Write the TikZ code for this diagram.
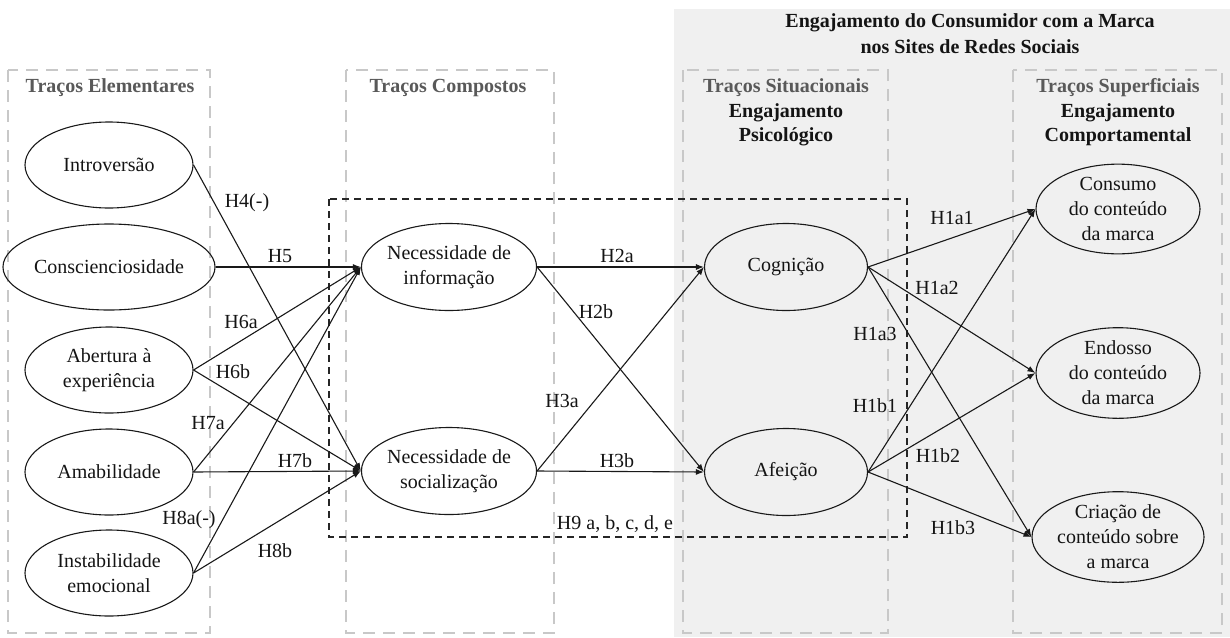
\documentclass[tikz,border=0pt]{standalone}
\usepackage{fontspec}
\setmainfont{Liberation Serif}
\usetikzlibrary{arrows.meta,shapes.geometric}
\definecolor{panelgray}{HTML}{F0F0F0}
\definecolor{frameline}{HTML}{C8C8C8}
\definecolor{headgray}{HTML}{595959}
\begin{document}
\begin{tikzpicture}[x=1pt,y=-1pt,
  every node/.style={font=\fontsize{20}{25}\selectfont, text=black!92},
  construct/.style={ellipse, draw=black!90, line width=1.1pt, inner sep=0pt, align=center},
  leftc/.style={construct, minimum width=168pt, minimum height=86pt},
  midc/.style={construct, minimum width=163pt, minimum height=87pt},
  rightc/.style={construct, minimum width=164pt, minimum height=87pt},
  layer/.style={draw=frameline, line width=1.4pt, dash pattern=on 12pt off 8pt},
  mediation/.style={draw=black!85, line width=1.2pt, dash pattern=on 7pt off 5pt},
  head/.style={font=\fontsize{20}{25}\selectfont\bfseries, text=headgray},
  subhead/.style={font=\fontsize{20}{25}\selectfont\bfseries, text=black!92},
  hpath/.style={draw=black!90, line width=1.1pt, -{Latex[length=8pt,width=6pt]}},
  hyp/.style={inner sep=1pt}
]
\useasboundingbox (0,0) rectangle (1230,637);

% shaded area of the brand engagement constructs
\fill[panelgray] (674,9) rectangle (1230,637);
\node[subhead] (title1) at (970,23) {Engajamento do Consumidor com a Marca};
\node[subhead] (title2) at (970,47) {nos Sites de Redes Sociais};

% trait layers
\draw[layer] (8,70) rectangle (210,633);
\draw[layer] (346,70) rectangle (554,633);
\draw[layer] (683,70) rectangle (888,633);
\draw[layer] (1013,70) rectangle (1222,633);

\node[head] (hElem) at (110,88) {Traços Elementares};
\node[head] (hComp) at (448,88) {Traços Compostos};
\node[head] (hSit) at (786,88) {Traços Situacionais};
\node[subhead] (hPsi1) at (786,113) {Engajamento};
\node[subhead] (hPsi2) at (786,137) {Psicológico};
\node[head] (hSup) at (1118,88) {Traços Superficiais};
\node[subhead] (hCom1) at (1118,113) {Engajamento};
\node[subhead] (hCom2) at (1118,137) {Comportamental};

% mediation frame
\draw[mediation] (329,199) rectangle (907,537);
\node[hyp] (h9) at (615,524) {H9 a, b, c, d, e};

% constructs
\node[leftc] (intro) at (109,165) {Introversão};
\node[leftc] (consc) at (109,267) {Conscienciosidade};
\node[leftc] (abert) at (109,370) {Abertura à\\experiência};
\node[leftc] (amab) at (109,472) {Amabilidade};
\node[leftc] (instab) at (109,573) {Instabilidade\\emocional};

\node[midc] (info) at (449,267) {Necessidade de\\informação};
\node[midc] (soc) at (449,471) {Necessidade de\\socialização};

\node[midc] (cog) at (786,267) {Cognição};
\node[midc] (afe) at (786,472) {Afeição};

\node[rightc] (consumo) at (1118,209) {Consumo\\do conteúdo\\da marca};
\node[rightc] (endosso) at (1118,373) {Endosso\\do conteúdo\\da marca};
\node[rightc] (criacao) at (1118,537) {Criação de\\conteúdo sobre\\a marca};

% hypothesised paths
\draw[hpath] (intro.east) -- (soc.west);
\draw[hpath] (consc.east) -- (info.west);
\draw[hpath] (abert.east) -- (info.west);
\draw[hpath] (abert.east) -- (soc.west);
\draw[hpath] (amab.east) -- (info.west);
\draw[hpath] (amab.east) -- (soc.west);
\draw[hpath] (instab.east) -- (info.west);
\draw[hpath] (instab.east) -- (soc.west);

\draw[hpath] (info.east) -- (cog.west);
\draw[hpath] (info.east) -- (afe.west);
\draw[hpath] (soc.east) -- (cog.west);
\draw[hpath] (soc.east) -- (afe.west);

\draw[hpath] (cog.east) -- (consumo.west);
\draw[hpath] (cog.east) -- (endosso.west);
\draw[hpath] (cog.east) -- (criacao.west);
\draw[hpath] (afe.east) -- (consumo.west);
\draw[hpath] (afe.east) -- (endosso.west);
\draw[hpath] (afe.east) -- (criacao.west);

% hypothesis labels
\node[hyp] (h4) at (247,203) {H4(-)};
\node[hyp] (h5) at (280,256) {H5};
\node[hyp] (h6a) at (241,322) {H6a};
\node[hyp] (h6b) at (233,372) {H6b};
\node[hyp] (h7a) at (208,423) {H7a};
\node[hyp] (h7b) at (295,461) {H7b};
\node[hyp] (h8a) at (189,520) {H8a(-)};
\node[hyp] (h8b) at (275,551) {H8b};
\node[hyp] (h2a) at (617,256) {H2a};
\node[hyp] (h2b) at (596,312) {H2b};
\node[hyp] (h3a) at (562,401) {H3a};
\node[hyp] (h3b) at (617,461) {H3b};
\node[hyp] (h1a1) at (952,218) {H1a1};
\node[hyp] (h1a2) at (937,288) {H1a2};
\node[hyp] (h1a3) at (875,334) {H1a3};
\node[hyp] (h1b1) at (875,406) {H1b1};
\node[hyp] (h1b2) at (938,456) {H1b2};
\node[hyp] (h1b3) at (953,528) {H1b3};
\end{tikzpicture}
\end{document}
